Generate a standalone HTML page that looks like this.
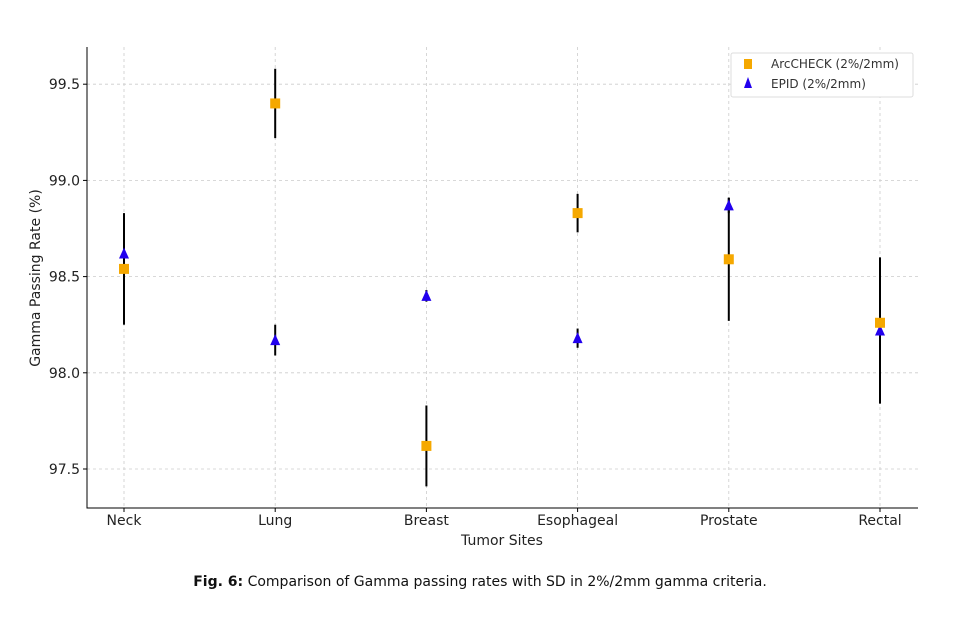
<!DOCTYPE html>
<html><head><meta charset="utf-8"><style>
body{margin:0;background:#fff;width:961px;height:617px;overflow:hidden;font-family:"DejaVu Sans","Liberation Sans",sans-serif;}
svg text{font-family:"DejaVu Sans","Liberation Sans",sans-serif;}
</style></head><body>
<svg id="chart" width="961" height="617" xmlns="http://www.w3.org/2000/svg">
<g id="grid"></g>
<g id="axes"></g>
<g id="marks"></g>
<g>
<rect x="731" y="53" width="182" height="44" fill="#fff" stroke="#ddd" rx="2"/>
<rect x="744" y="59" width="8" height="10" fill="#f5a800"/>
<text x="771" y="68" font-size="12" fill="#333">ArcCHECK (2%/2mm)</text>
<polygon points="748,77 744,88 752,88" fill="#2200ee"/>
<text x="771" y="88" font-size="12" fill="#333">EPID (2%/2mm)</text>
</g>
<text x="502" y="545" font-size="14" text-anchor="middle" fill="#222">Tumor Sites</text>
<text transform="translate(40,278) rotate(-90)" font-size="14" text-anchor="middle" fill="#222">Gamma Passing Rate (%)</text>
<text x="480" y="586" font-size="14" text-anchor="middle" fill="#111" font-family="Liberation Sans, sans-serif"><tspan font-weight="bold">Fig. 6:</tspan> Comparison of Gamma passing rates with SD in 2%/2mm gamma criteria.</text>
</svg>
<script>
const categories=["Neck","Lung","Breast","Esophageal","Prostate","Rectal"];
const arcMean=[98.54,99.40,97.62,98.83,98.59,98.26];
const arcSD=[0.29,0.18,0.21,0.10,0.32,0.0];
const epidMean=[98.62,98.17,98.40,98.18,98.87,98.22];
const epidSD=[0.0,0.08,0.03,0.05,0.04,0.38];
const yTicks=[97.5,98.0,98.5,99.0,99.5];
const NS="http://www.w3.org/2000/svg";
const L=87,R=918,T=47,B=508;
function x(i){return 124+i*151.2;}
function y(v){return 469-(v-97.5)*192.4;}
function mk(t,a,p){const e=document.createElementNS(NS,t);for(const k in a)e.setAttribute(k,a[k]);document.getElementById(p).appendChild(e);return e;}
yTicks.forEach(v=>{
 const g=mk('line',{x1:L,x2:R,y1:y(v),y2:y(v),stroke:'#ccc','stroke-dasharray':'3,3','stroke-width':0.8},'grid');
 
 
 const tk=mk('line',{x1:L-4,x2:L,y1:y(v),y2:y(v),stroke:'#000'},'axes');
 
 
 const t=mk('text',{x:L-7,y:y(v)+5,'font-size':14,'text-anchor':'end',fill:'#222'},'axes');
 t.textContent=v.toFixed(1);
 
 
});
categories.forEach((c,i)=>{
 const g=mk('line',{x1:x(i),x2:x(i),y1:T,y2:B,stroke:'#ccc','stroke-dasharray':'3,3','stroke-width':0.8},'grid');
 
 
 const tk=mk('line',{x1:x(i),x2:x(i),y1:B,y2:B+4,stroke:'#000'},'axes');
 
 
 const t=mk('text',{x:x(i),y:B+17,'font-size':14,'text-anchor':'middle',fill:'#222'},'axes');
 t.textContent=c;
 
 
});
const ax=mk('path',{d:`M${L},${T}V${B}H${R}`,fill:'none',stroke:'#000','stroke-width':1},'axes');


categories.forEach((c,i)=>{
 if(arcSD[i]>0){const e=mk('line',{x1:x(i),x2:x(i),y1:y(arcMean[i]-arcSD[i]),y2:y(arcMean[i]+arcSD[i]),stroke:'#000','stroke-width':2},'marks');
 
 }
 if(epidSD[i]>0){const e=mk('line',{x1:x(i),x2:x(i),y1:y(epidMean[i]-epidSD[i]),y2:y(epidMean[i]+epidSD[i]),stroke:'#000','stroke-width':2},'marks');
 
 }
 const p=mk('polygon',{points:`${x(i)},${y(epidMean[i])-6} ${x(i)-5},${y(epidMean[i])+5} ${x(i)+5},${y(epidMean[i])+5}`,fill:'#2200ee'},'marks');
 
 
 const r=mk('rect',{x:x(i)-5,y:y(arcMean[i])-5,width:10,height:10,fill:'#f5a800'},'marks');
 
 
});
</script>
</body></html>
